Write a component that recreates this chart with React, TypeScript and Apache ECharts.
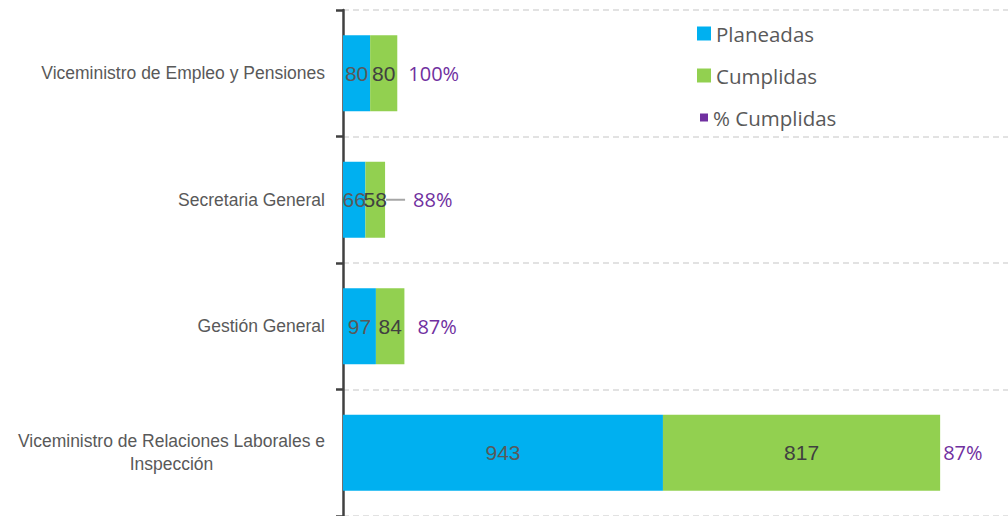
import React, { useEffect, useRef } from "react";
import * as echarts from "echarts";

const categories = [
  "Viceministro de Empleo y Pensiones",
  "Secretaria General",
  "Gestión General",
  "Viceministro de Relaciones Laborales e Inspección",
];
const planeadas = [80, 66, 97, 943];
const cumplidas = [80, 58, 84, 817];
const pctCumplidas = ["100%", "88%", "87%", "87%"];

// label placement tweaks (style, not data)
const pctGap = [11, 28, 13, 3];
const pctLeader = [false, true, false, false];

const wrapLabel = (v: string) => {
  if (v.length > 40) {
    const cut = v.lastIndexOf(" ");
    return "{c|" + v.slice(0, cut) + "}\n{c|" + v.slice(cut + 1) + "}";
  }
  return v;
};

const legendText = { color: "#595959", fontSize: 20.5, fontFamily: "Open Sans", lineHeight: 20 };

export default function App() {
  const ref = useRef<HTMLDivElement>(null);
  useEffect(() => {
    if (!ref.current) return;
    const chart = echarts.init(ref.current, null, { renderer: "svg" });
    const totals = planeadas.map((p, i) => p + cumplidas[i]);
    chart.setOption({
      animation: false,
      grid: { left: 343, right: 0, top: 10, height: 509 },
      legend: [
        {
          orient: "vertical",
          left: 697,
          top: 23,
          padding: 0,
          itemWidth: 14,
          itemHeight: 14,
          itemGap: 21,
          icon: "rect",
          data: ["Planeadas", "Cumplidas"],
          textStyle: legendText,
        },
        {
          orient: "vertical",
          left: 700,
          top: 107,
          padding: 0,
          itemWidth: 8,
          itemHeight: 8,
          icon: "rect",
          data: ["% Cumplidas"],
          textStyle: legendText,
        },
      ],
      xAxis: {
        type: "value",
        min: 0,
        max: 1960,
        show: false,
        splitLine: { show: false },
      },
      yAxis: {
        type: "category",
        data: categories,
        inverse: true,
        axisLine: { show: true, lineStyle: { color: "#404040", width: 2.5 } },
        axisTick: { show: true, length: 7, lineStyle: { color: "#404040", width: 2.5 } },
        splitLine: { show: true, lineStyle: { color: "#d9d9d9", type: [6, 4], width: 1.5 } },
        axisLabel: {
          margin: 18,
          color: "#595959",
          fontSize: 17.5,
          fontFamily: "Liberation Sans",
          formatter: wrapLabel,
          rich: {
            c: { align: "center", fontSize: 17.5, lineHeight: 23, color: "#595959", fontFamily: "Liberation Sans" },
          },
        },
      },
      series: [
        {
          name: "Planeadas",
          type: "bar",
          stack: "t",
          barCategoryGap: "40%",
          data: planeadas,
          itemStyle: { color: "#00B0F0" },
          label: {
            show: true,
            position: "inside",
            color: "#595959",
            fontSize: 21,
            fontFamily: "Liberation Sans",
          },
        },
        {
          name: "Cumplidas",
          type: "bar",
          stack: "t",
          barCategoryGap: "40%",
          data: cumplidas,
          itemStyle: { color: "#92D050" },
          label: {
            show: true,
            position: "inside",
            color: "#404040",
            fontSize: 21,
            fontFamily: "Liberation Sans",
          },
        },
        {
          name: "% Cumplidas",
          type: "custom",
          itemStyle: { color: "#7030A0" },
          data: totals.map((t, i) => [t, i]),
          encode: { x: 0, y: 1 },
          renderItem: (params: any, api: any) => {
            const i = params.dataIndex;
            const p = api.coord([api.value(0), api.value(1)]);
            const children: any[] = [
              {
                type: "text",
                x: p[0] + pctGap[i],
                y: p[1],
                style: {
                  text: pctCumplidas[i],
                  fill: "#7030A0",
                  fontSize: 20,
                  fontFamily: "Open Sans",
                  align: "left",
                  verticalAlign: "middle",
                },
              },
            ];
            if (pctLeader[i]) {
              children.push({
                type: "line",
                shape: { x1: p[0] + 1, y1: p[1], x2: p[0] + 20, y2: p[1] },
                style: { stroke: "#a6a6a6", lineWidth: 2 },
              });
            }
            return { type: "group", children };
          },
        },
      ],
    });
    return () => chart.dispose();
  }, []);
  return (
    <div
      ref={ref}
      style={{ position: "absolute", left: 0, top: 0, width: 1008, height: 516, background: "#fff" }}
    />
  );
}
